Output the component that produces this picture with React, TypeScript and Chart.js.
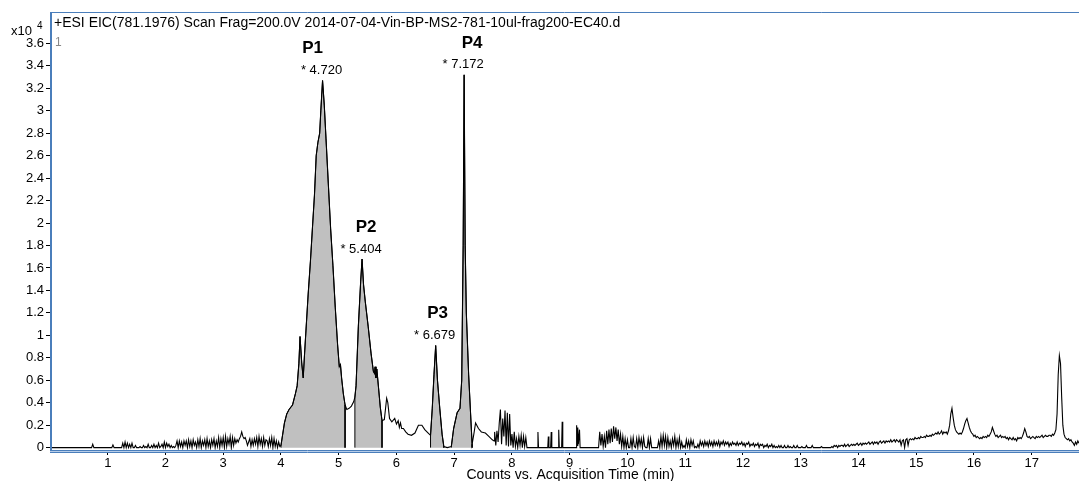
import React, { useEffect, useRef } from "react";
import { Chart, registerables } from "chart.js";

Chart.register(...registerables);

const TITLE = "+ESI EIC(781.1976) Scan Frag=200.0V 2014-07-04-Vin-BP-MS2-781-10ul-frag200-EC40.d";
const X_TITLE = "Counts vs. Acquisition Time (min)";
const X_TICKS = [1, 2, 3, 4, 5, 6, 7, 8, 9, 10, 11, 12, 13, 14, 15, 16, 17];
const Y_TICKS = [0, 0.2, 0.4, 0.6, 0.8, 1, 1.2, 1.4, 1.6, 1.8, 2, 2.2, 2.4, 2.6, 2.8, 3, 3.2, 3.4, 3.6];
const SCAN_STEP = 0.02;

// intensities in units of 10^4 counts
const leadPoints: [number, number][] = [
  [0, 0], [0.72, 0], [0.74, 0.03], [0.76, 0], [1.07, 0], [1.09, 0.025], [1.11, 0], [1.18, 0],
];

const noise1Start = 1.2;
const noise1 = [
  0, 0, 0, 0.04, 0, 0.05, 0, 0.04, 0, 0.03,
  0, 0.04, 0, 0, 0.02, 0, 0, 0, 0.01, 0,
  0, 0.02, 0, 0.01, 0, 0.03, 0, 0, 0.02, 0,
  0.03, 0, 0.02, 0, 0.04, 0, 0.01, 0.03, 0, 0.05,
  0, 0.04, 0.01, 0.03, 0, 0.02, 0, 0.01, 0, 0.02,
  0.06, 0, 0.06, 0.01, 0.05, 0, 0.06, 0.02, 0.06, 0,
  0.07, 0.01, 0.06, 0, 0.07, 0.02, 0.05, 0, 0.07, 0.01,
  0.08, 0, 0.06, 0.02, 0.07, 0, 0.08, 0.01, 0.06, 0,
  0.07, 0.02, 0.08, 0, 0.06, 0.01, 0.09, 0, 0.08, 0.02,
  0.09, 0, 0.1, 0.01, 0.08, 0.03, 0.1, 0, 0.09, 0.02,
  0.08, 0.04, 0.07, 0.05, 0.08, 0.1, 0.14, 0.1, 0.08, 0.09,
  0.06, 0.02, 0.05, 0.08, 0.01, 0.07, 0.02, 0.08, 0.03, 0.09,
  0.01, 0.1, 0.03, 0.08, 0.01, 0.09, 0.02, 0.07, 0.06, 0.01,
  0.08, 0.02, 0.09, 0, 0.08, 0.01, 0.06, 0, 0.05, 0.01,
];

const peakRegion: [number, number][] = [
  [4.0, 0.02], [4.03, 0.12], [4.06, 0.22], [4.1, 0.3], [4.14, 0.34], [4.2, 0.38], [4.25, 0.48],
  [4.28, 0.55], [4.31, 0.75], [4.33, 0.99], [4.36, 0.75], [4.385, 0.62], [4.41, 0.85], [4.43, 1.02],
  [4.47, 1.36], [4.51, 1.66], [4.55, 2.0], [4.58, 2.25], [4.61, 2.6], [4.64, 2.72], [4.67, 2.8],
  [4.69, 3.0], [4.72, 3.27], [4.75, 3.05], [4.78, 2.75], [4.82, 2.35], [4.86, 1.95], [4.9, 1.62],
  [4.94, 1.25], [4.98, 0.92], [5.01, 0.72], [5.03, 0.74], [5.05, 0.62], [5.08, 0.48], [5.11, 0.38],
  [5.14, 0.34], [5.18, 0.35], [5.22, 0.37], [5.26, 0.41], [5.28, 0.45], [5.3, 0.55], [5.34, 1.08],
  [5.38, 1.48], [5.404, 1.68], [5.43, 1.45], [5.46, 1.3], [5.51, 1.08], [5.56, 0.84], [5.6, 0.68],
  [5.62, 0.66], [5.63, 0.72], [5.645, 0.62], [5.66, 0.7], [5.69, 0.53], [5.72, 0.36], [5.75, 0.24],
  [5.79, 0.25], [5.83, 0.44], [5.85, 0.4], [5.88, 0.26], [5.92, 0.23], [5.97, 0.26], [6.0, 0.21],
  [6.03, 0.24], [6.05, 0.18], [6.07, 0.22], [6.09, 0.17], [6.12, 0.17], [6.16, 0.14], [6.2, 0.12],
  [6.26, 0.11], [6.32, 0.13], [6.38, 0.2], [6.44, 0.2], [6.49, 0.16], [6.55, 0.13], [6.59, 0.11],
  [6.62, 0.35], [6.65, 0.65], [6.679, 0.91], [6.71, 0.6], [6.75, 0.35], [6.79, 0.12], [6.82, 0.01],
  [6.88, 0.0], [6.95, 0.01], [6.99, 0.17], [7.05, 0.31], [7.1, 0.35], [7.13, 0.6], [7.155, 1.8],
  [7.172, 3.32], [7.19, 1.8], [7.21, 1.2], [7.25, 0.65], [7.31, 0.03], [7.34, 0.12], [7.37, 0.22],
  [7.42, 0.17], [7.47, 0.14], [7.54, 0.13], [7.6, 0.1], [7.66, 0.07], [7.69, 0.06],
];

const noise2Start = 7.7;
const noise2 = [
  0.14, 0.02, 0.15, 0.05, 0.22, 0.34, 0.03, 0.26, 0.1, 0.33,
  0.02, 0.31, 0.01, 0.3, 0.02, 0.12, 0, 0.14, 0.01, 0.08,
  0, 0.1, 0.02, 0.11, 0, 0.1, 0.01, 0.09, 0,
];

const sparse2: [number, number][] = [
  [8.44, 0], [8.45, 0.14], [8.46, 0], [8.62, 0], [8.63, 0.1], [8.64, 0], [8.67, 0], [8.68, 0.14],
  [8.69, 0], [8.8, 0], [8.81, 0.16], [8.82, 0], [8.86, 0], [8.87, 0.23], [8.88, 0], [9.11, 0],
  [9.12, 0.2], [9.13, 0.02], [9.14, 0.18], [9.15, 0.03], [9.17, 0.16], [9.18, 0], [9.48, 0],
];

const noise3Start = 9.5;
const noise3 = [
  0, 0.14, 0.02, 0.12, 0.01, 0.1, 0, 0.15, 0.03, 0.16,
  0.04, 0.17, 0.05, 0.19, 0.08, 0.18, 0.06, 0.16, 0.03, 0.12,
  0.01, 0.1, 0, 0.08, 0, 0.07, 0, 0, 0.08, 0,
  0.09, 0.01, 0, 0.08, 0, 0.09, 0.02, 0.08, 0, 0.09,
  0.01, 0, 0, 0.08, 0, 0.08, 0, 0, 0, 0, 0,
];

const noise4Start = 10.52;
const noise4 = [
  0, 0.06, 0, 0.1, 0.01, 0.11, 0.02, 0.1, 0, 0.09,
  0.01, 0.06, 0, 0.08, 0.02, 0.1, 0, 0.07, 0.01, 0.09,
  0, 0.05, 0, 0.02, 0, 0.07, 0.01, 0.06, 0, 0.07,
  0.02, 0.06, 0, 0.01, 0, 0.03, 0, 0.06, 0.02, 0.05,
  0.01, 0.06, 0.02, 0.05, 0.01, 0.06, 0.02, 0.05, 0.01, 0.06,
  0.02, 0.05, 0.02, 0.06, 0.01, 0.05, 0.03, 0.06, 0.02, 0.05,
  0.03, 0.05, 0.01, 0.04, 0.02, 0.05, 0.03, 0.04, 0.02, 0.05,
  0.02, 0.04, 0.03, 0.05, 0.02, 0.04, 0.01, 0.04, 0.03, 0.05,
  0.01, 0.03, 0.02, 0.04, 0.01, 0.03, 0.02, 0.04, 0, 0.03,
  0.02, 0.03, 0, 0.02, 0.01, 0.03, 0, 0.02, 0.01, 0.03,
  0, 0.02, 0, 0.01, 0, 0.02, 0, 0.02, 0, 0,
  0.02, 0, 0, 0.02, 0, 0.01, 0, 0, 0.02, 0,
  0, 0.02, 0, 0, 0, 0.01, 0, 0, 0, 0.02,
  0, 0, 0, 0, 0.02, 0, 0, 0, 0, 0,
  0, 0, 0.01, 0, 0, 0, 0, 0, 0, 0,
];

const noise5Start = 13.52;
const noise5 = [
  0, 0.01, 0, 0.02, 0.01, 0.02, 0, 0.02, 0.01, 0.02,
  0.02, 0.01, 0.03, 0.01, 0.02, 0.03, 0.01, 0.02, 0.03, 0.02,
  0.03, 0.02, 0.03, 0.04, 0.02, 0.03, 0.04, 0.02, 0.04, 0.03,
  0.04, 0.03, 0.04, 0.05, 0.03, 0.04, 0.05, 0.03, 0.05, 0.04,
  0.05, 0.03, 0.05, 0.06, 0.04, 0.05, 0.06, 0.04, 0.06, 0.05,
  0.06, 0.05, 0.07, 0.05, 0.06, 0.07, 0.05, 0.07, 0.06, 0.05,
  0.07, 0.02, 0.06, 0.07, 0, 0.07, 0.08, 0.02, 0.07, 0.08,
  0.07, 0.08, 0.07, 0.09, 0.08, 0.08, 0.09, 0.08, 0.1, 0.09,
  0.09, 0.1, 0.09, 0.11, 0.1, 0.1, 0.11, 0.1, 0.12, 0.11,
  0.12, 0.13, 0.12, 0.14, 0.12, 0.13, 0.15, 0.12, 0.14, 0.13,
  0.14, 0.12, 0.15, 0.2, 0.3, 0.35, 0.27, 0.2, 0.16, 0.14,
  0.13, 0.12, 0.13, 0.12, 0.14, 0.17, 0.21, 0.24, 0.26, 0.22,
  0.18, 0.15, 0.13, 0.12, 0.1, 0.11, 0.09, 0.1, 0.09, 0.08,
  0.09, 0.08, 0.1, 0.09, 0.1, 0.09, 0.11, 0.1, 0.12, 0.14,
  0.18, 0.15, 0.12, 0.1, 0.11, 0.09, 0.1, 0.11, 0.09, 0.1,
  0.09, 0.1, 0.08, 0.09, 0.07, 0.09, 0.08, 0.07, 0.09, 0.07,
  0.08, 0.06, 0.09, 0.08, 0.09, 0.08, 0.1, 0.13, 0.17, 0.14,
  0.1, 0.09, 0.1, 0.08, 0.09, 0.1, 0.09, 0.08, 0.1, 0.09,
  0.1, 0.09, 0.1, 0.11, 0.09, 0.1, 0.11, 0.1, 0.1, 0.11,
  0.11, 0.1, 0.12, 0.11, 0.13, 0.16, 0.3, 0.65, 0.82, 0.75,
  0.45, 0.2, 0.12, 0.09, 0.08, 0.07, 0.08, 0.06, 0.07, 0.05,
  0.04, 0.02, 0.05, 0.03, 0.06, 0.04,
];

const PEAK_NAMES = ["P1", "P2", "P3", "P4"];
const PEAK_RT = [4.72, 5.404, 6.679, 7.172];
const PEAK_WINDOWS: [number, number][] = [[4.0, 5.11], [5.28, 5.75], [6.59, 6.82], [6.95, 7.31]];

// layout constants (pixels)
const NAME_DX = [-10, 4, 2, 8];
const W = 1079;
const H = 481;
const BLUE = "#4a7ebb";
const FONT = "'Liberation Sans', Arial, Helvetica, sans-serif";

type P = { x: number; y: number };
const sampled = (start: number, vals: number[]): P[] =>
  vals.map((v, i) => ({ x: +(start + i * SCAN_STEP).toFixed(3), y: v }));
const pairs = (arr: [number, number][]): P[] => arr.map(([x, y]) => ({ x, y }));

const trace: P[] = [
  ...pairs(leadPoints),
  ...sampled(noise1Start, noise1),
  ...pairs(peakRegion),
  ...sampled(noise2Start, noise2),
  ...pairs(sparse2),
  ...sampled(noise3Start, noise3),
  ...sampled(noise4Start, noise4),
  ...sampled(noise5Start, noise5),
];

const peakPolys: P[][] = PEAK_WINDOWS.map(([a, b]) => [
  { x: a, y: 0 },
  ...trace.filter((p) => p.x >= a - 1e-9 && p.x <= b + 1e-9),
  { x: b, y: 0 },
]);

const overlay = {
  id: "overlay",
  afterDraw(chart: any) {
    const ctx = chart.ctx as CanvasRenderingContext2D;
    const { left, right, top, bottom } = chart.chartArea;
    const xs = chart.scales.x;
    const ys = chart.scales.y;
    ctx.save();
    // frame
    ctx.strokeStyle = BLUE;
    ctx.lineWidth = 1;
    ctx.beginPath();
    ctx.moveTo(left, top + 0.5);
    ctx.lineTo(right, top + 0.5);
    ctx.stroke();
    ctx.lineWidth = 2;
    ctx.beginPath();
    ctx.moveTo(left + 1, top);
    ctx.lineTo(left + 1, bottom + 2);
    ctx.stroke();
    ctx.lineWidth = 1;
    ctx.beginPath();
    ctx.moveTo(left, bottom - 0.5);
    ctx.lineTo(right, bottom - 0.5);
    ctx.moveTo(left, bottom + 1.5);
    ctx.lineTo(right, bottom + 1.5);
    ctx.stroke();
    ctx.strokeStyle = "#b8cde8";
    ctx.beginPath();
    ctx.moveTo(left, bottom + 0.5);
    ctx.lineTo(right, bottom + 0.5);
    ctx.stroke();

    // texts
    ctx.fillStyle = "#000";
    ctx.textBaseline = "middle";
    ctx.textAlign = "left";
    ctx.font = `14px ${FONT}`;
    ctx.fillText(TITLE, left + 4, top + 11);
    ctx.font = `13px ${FONT}`;
    ctx.fillText("x10", 11, 31);
    ctx.font = `10px ${FONT}`;
    ctx.fillText("4", 37, 26);
    ctx.fillStyle = "#888";
    ctx.font = `12px ${FONT}`;
    ctx.fillText("1", left + 5, 43);

    ctx.fillStyle = "#000";
    ctx.textAlign = "center";
    ctx.font = `14px ${FONT}`;
    ctx.fillText(X_TITLE, (left + right) / 2 + 6, 475);

    PEAK_RT.forEach((rt, i) => {
      const [a, b] = PEAK_WINDOWS[i];
      let apex = 0;
      trace.forEach((p) => {
        if (p.x >= a && p.x <= b && p.y > apex) apex = p.y;
      });
      const px = xs.getPixelForValue(rt);
      const py = ys.getPixelForValue(apex);
      ctx.font = `13px ${FONT}`;
      ctx.fillText(`* ${rt.toFixed(3)}`, px - 1, py - 10);
      ctx.font = `bold 17px ${FONT}`;
      ctx.fillText(PEAK_NAMES[i], px + NAME_DX[i], py - 32);
    });
    ctx.restore();
  },
};

export default function App() {
  const ref = useRef<HTMLCanvasElement | null>(null);
  useEffect(() => {
    if (!ref.current) return;
    const chart = new Chart(ref.current, {
      type: "line",
      data: {
        datasets: [
          ...peakPolys.map((poly) => ({
            data: poly,
            borderColor: "#000",
            borderWidth: 1,
            backgroundColor: "#c0c0c0",
            fill: "origin",
            pointRadius: 0,
            tension: 0,
            order: 2,
          })),
          {
            data: trace,
            borderColor: "#000",
            borderWidth: 1.1,
            fill: false,
            pointRadius: 0,
            tension: 0,
            order: 1,
          },
        ],
      } as any,
      options: {
        animation: false,
        responsive: false,
        devicePixelRatio: 1,
        layout: { padding: { top: 12, left: 0, right: 0, bottom: 0 } },
        plugins: { legend: { display: false }, tooltip: { enabled: false }, title: { display: false } },
        scales: {
          x: {
            type: "linear",
            min: 0,
            max: 17.82,
            afterBuildTicks: (s: any) => {
              s.ticks = X_TICKS.map((v) => ({ value: v }));
            },
            afterFit: (s: any) => {
              s.height = 30;
            },
            ticks: {
              color: "#000",
              font: { family: FONT, size: 13 },
              padding: 1,
              maxRotation: 0,
              autoSkip: false,
              callback: (v: any) => String(v),
            },
            grid: { drawOnChartArea: false, drawTicks: true, tickLength: 4, color: "#000" },
            border: { display: false },
          },
          y: {
            type: "linear",
            min: -0.03,
            max: 3.88,
            afterBuildTicks: (s: any) => {
              s.ticks = Y_TICKS.map((v) => ({ value: v }));
            },
            afterFit: (s: any) => {
              s.width = 50;
            },
            ticks: {
              color: "#000",
              font: { family: FONT, size: 13 },
              padding: 2,
              autoSkip: false,
              callback: (v: any) => String(+Number(v).toFixed(1)),
            },
            grid: { drawOnChartArea: false, drawTicks: true, tickLength: 4, color: "#000" },
            border: { display: false },
          },
        },
      } as any,
      plugins: [overlay],
    });
    return () => chart.destroy();
  }, []);
  return (
    <div style={{ position: "absolute", left: 0, top: 0, width: W, height: H, background: "#fff" }}>
      <canvas ref={ref} width={W} height={H} style={{ width: W, height: H, display: "block" }} />
    </div>
  );
}
